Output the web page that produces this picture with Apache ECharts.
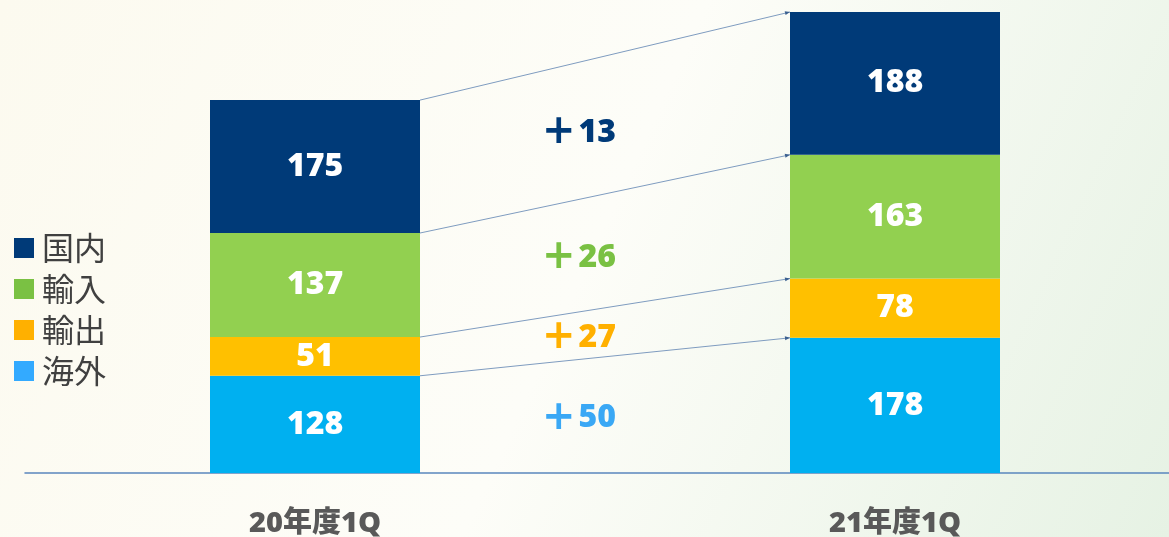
<!DOCTYPE html>
<html>
<head>
<meta charset="utf-8">
<script src="https://cdn.jsdelivr.net/npm/echarts@6/dist/echarts.min.js"></script>
<style>
html, body { margin: 0; padding: 0; }
#main { width: 1169px; height: 537px; }
</style>
</head>
<body>
<div id="main"></div>
<script>
var categories = ['20年度1Q', '21年度1Q'];
var kaigai = [128, 178];   // 海外
var yushutsu = [51, 78];   // 輸出
var yunyu = [137, 163];    // 輸入
var kokunai = [175, 188];  // 国内
var diffs = [50, 27, 26, 13]; // 下から 海外, 輸出, 輸入, 国内

var barColors = ['#00b0f0', '#ffc000', '#92d050', '#003a78'];
var textColors = ['#3aa8f5', '#ffb000', '#7ac143', '#003a78'];
var barWidth = 210;
var numFont = 'Open Sans, DejaVu Sans';

// 積み上げ順（下から）
var stackNames = ['海外', '輸出', '輸入', '国内'];
var stackData = [kaigai, yushutsu, yunyu, kokunai];

// 接続線用のデータ：[0, 下端20, 上端20, 下端21, 上端21, 差, 番号]
var linkData = [];
var cum0 = 0, cum1 = 0;
for (var i = 0; i < stackData.length; i++) {
    var b0 = cum0, b1 = cum1;
    cum0 += stackData[i][0];
    cum1 += stackData[i][1];
    linkData.push([0, b0, cum0, b1, cum1, diffs[i], i]);
}

var myChart = echarts.init(document.getElementById('main'));

var series = [];
for (var k = 0; k < stackData.length; k++) {
    series.push({
        name: stackNames[k],
        type: 'bar',
        stack: 'total',
        barWidth: barWidth,
        data: stackData[k],
        itemStyle: { color: barColors[k] },
        label: {
            show: true,
            position: 'inside',
            color: '#fff',
            fontFamily: numFont,
            fontWeight: 800,
            fontSize: 32
        }
    });
}

series.push({
    type: 'custom',
    encode: { x: 0, y: 2 },
    data: linkData,
    z: 5,
    silent: true,
    renderItem: function (params, api) {
        var half = barWidth / 2;
        var p0 = api.coord([0, api.value(2)]);
        var p1 = api.coord([1, api.value(4)]);
        var q0 = api.coord([0, api.value(1)]);
        var q1 = api.coord([1, api.value(3)]);
        var x1 = p0[0] + half, x2 = p1[0] - half;
        var idx = api.value(6);
        var t = 0.43;
        var yTop = p0[1] + (p1[1] - p0[1]) * t;
        var yBot = q0[1] + (q1[1] - q0[1]) * t;
        // 矢印の先
        var ang = Math.atan2(p1[1] - p0[1], x2 - x1);
        var al = 5, aw = 2;
        var bx = x2 - al * Math.cos(ang), by = p1[1] - al * Math.sin(ang);
        return {
            type: 'group',
            children: [
                {
                    type: 'line',
                    shape: { x1: x1, y1: p0[1], x2: x2, y2: p1[1] },
                    style: { stroke: '#7f9cc0', lineWidth: 1 }
                },
                {
                    type: 'polygon',
                    shape: {
                        points: [
                            [x2, p1[1]],
                            [bx - aw * Math.sin(ang), by + aw * Math.cos(ang)],
                            [bx + aw * Math.sin(ang), by - aw * Math.cos(ang)]
                        ]
                    },
                    style: { fill: '#3a5f8f' }
                },
                {
                    type: 'text',
                    style: {
                        text: '{p|+}{n|' + api.value(5) + '}',
                        x: x1 + (x2 - x1) * t,
                        y: (yTop + yBot) / 2 + 2,
                        fill: textColors[idx],
                        align: 'center',
                        verticalAlign: 'middle',
                        rich: {
                            p: {
                                fontFamily: 'DejaVu Sans',
                                fontWeight: 'bold',
                                fontSize: 40,
                                padding: [0, 3, 0, 0],
                                fill: textColors[idx]
                            },
                            n: {
                                fontFamily: numFont,
                                fontWeight: 800,
                                fontSize: 32,
                                fill: textColors[idx]
                            }
                        }
                    }
                }
            ]
        };
    }
});

option = {
    backgroundColor: {
        type: 'linear', x: 0, y: 0, x2: 1, y2: 1,
        colorStops: [
            { offset: 0, color: '#fcfaef' },
            { offset: 0.5, color: '#fdfdf8' },
            { offset: 1, color: '#e6f2e4' }
        ]
    },
    animation: false,
    legend: {
        orient: 'vertical',
        left: 14,
        top: 232,
        padding: 0,
        itemWidth: 20,
        itemHeight: 20,
        itemGap: 9,
        selectedMode: false,
        textStyle: {
            color: '#404040',
            fontFamily: 'Noto Sans CJK JP',
            fontSize: 32,
            padding: [0, 0, 0, 3]
        },
        data: [
            { name: '国内', icon: 'rect', itemStyle: { color: '#003a78' } },
            { name: '輸入', icon: 'rect', itemStyle: { color: '#7ac143' } },
            { name: '輸出', icon: 'rect', itemStyle: { color: '#ffb000' } },
            { name: '海外', icon: 'rect', itemStyle: { color: '#33aaff' } }
        ]
    },
    grid: {
        left: 25,
        width: 1160,
        top: 12,
        bottom: 64,
        outerBoundsMode: 'none'
    },
    xAxis: {
        type: 'category',
        data: categories,
        axisLine: { lineStyle: { color: '#5a86bd', width: 1.5 } },
        axisTick: { show: false },
        axisLabel: {
            margin: 36,
            color: '#595959',
            fontFamily: 'Open Sans, Noto Sans CJK JP',
            fontWeight: 800,
            fontSize: 29
        }
    },
    yAxis: {
        type: 'value',
        min: 0,
        max: function (v) { return v.max; },
        show: false,
        splitLine: { show: false }
    },
    series: series
};
myChart.setOption(option);
</script>
</body>
</html>
